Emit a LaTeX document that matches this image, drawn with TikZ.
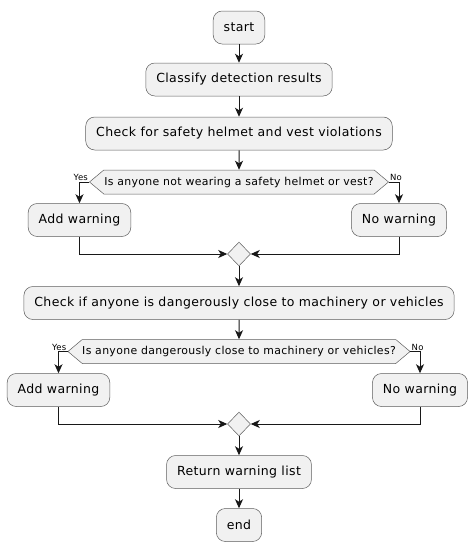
\documentclass[tikz,border=0pt]{standalone}
\usepackage{fontspec}
\setmainfont{DejaVu Sans}[LetterSpace=3]
\usetikzlibrary{arrows.meta,shapes.geometric,shapes.symbols}
\definecolor{boxfill}{HTML}{F1F1F1}
\definecolor{lineclr}{HTML}{181818}
\begin{document}
\begin{tikzpicture}[x=1pt, y=-1pt,
    act/.style={rectangle, rounded corners=9pt, draw=lineclr!70, line width=0.5pt, fill=boxfill, minimum height=33pt, inner xsep=10.5pt, font=\fontsize{12.5}{15}\selectfont},
    ask/.style={signal, signal to=east and west, signal pointer angle=80, draw=lineclr!70, line width=0.5pt, fill=boxfill, minimum height=24pt, inner sep=0pt, font=\fontsize{10.9}{13}\selectfont},
    merge/.style={diamond, draw=lineclr!70, line width=0.5pt, fill=boxfill, minimum width=23pt, minimum height=24pt, inner sep=0pt},
    arr/.style={-{Stealth[length=9pt,width=8pt,inset=2.5pt]}, draw=lineclr, line width=1pt},
    lbl/.style={font=\fontsize{8.5}{10}\selectfont, inner sep=1pt}]
  \useasboundingbox (0,0) rectangle (474,552);
      \node[act] (start) at (239,27.5){start};
      \node[act] (classify) at (239,79.5){Classify detection results};
      \node[act] (check1) at (239,133.5){Check for safety helmet and vest violations};
      \node[ask, minimum width=299pt] (q1) at (239,182){Is anyone not wearing a safety helmet or vest?};
      \node[act] (add1) at (79.5,220){Add warning};
      \node[act] (nowarn1) at (399,220){No warning};
      \node[merge] (m1) at (239,254){};
      \node[act] (check2) at (239,303){Check if anyone is dangerously close to machinery or vehicles};
      \node[ask, minimum width=341pt] (q2) at (239,351.5){Is anyone dangerously close to machinery or vehicles?};
      \node[act] (add2) at (58.5,390){Add warning};
      \node[act] (nowarn2) at (420,390){No warning};
      \node[merge] (m2) at (239,424){};
      \node[act] (ret) at (239,472){Return warning list};
      \node[act] (end) at (239,525){end};
      \node[lbl, anchor=south east] (yes1) at (q1.west){Yes};
      \node[lbl, anchor=south west] (no1) at (q1.east){No};
      \node[lbl, anchor=south east] (yes2) at (q2.west){Yes};
      \node[lbl, anchor=south west] (no2) at (q2.east){No};
      \draw[arr](start) -- (classify);
      \draw[arr](classify) -- (check1);
      \draw[arr](check1) -- (q1);
      \draw[arr](q1.west) -| (add1.north);
      \draw[arr](q1.east) -| (nowarn1.north);
      \draw[arr](add1.south) |- (m1.west);
      \draw[arr](nowarn1.south) |- (m1.east);
      \draw[arr](m1) -- (check2);
      \draw[arr](check2) -- (q2);
      \draw[arr](q2.west) -| (add2.north);
      \draw[arr](q2.east) -| (nowarn2.north);
      \draw[arr](add2.south) |- (m2.west);
      \draw[arr](nowarn2.south) |- (m2.east);
      \draw[arr](m2) -- (ret);
      \draw[arr](ret) -- (end);

    \end{tikzpicture}
\end{document}
